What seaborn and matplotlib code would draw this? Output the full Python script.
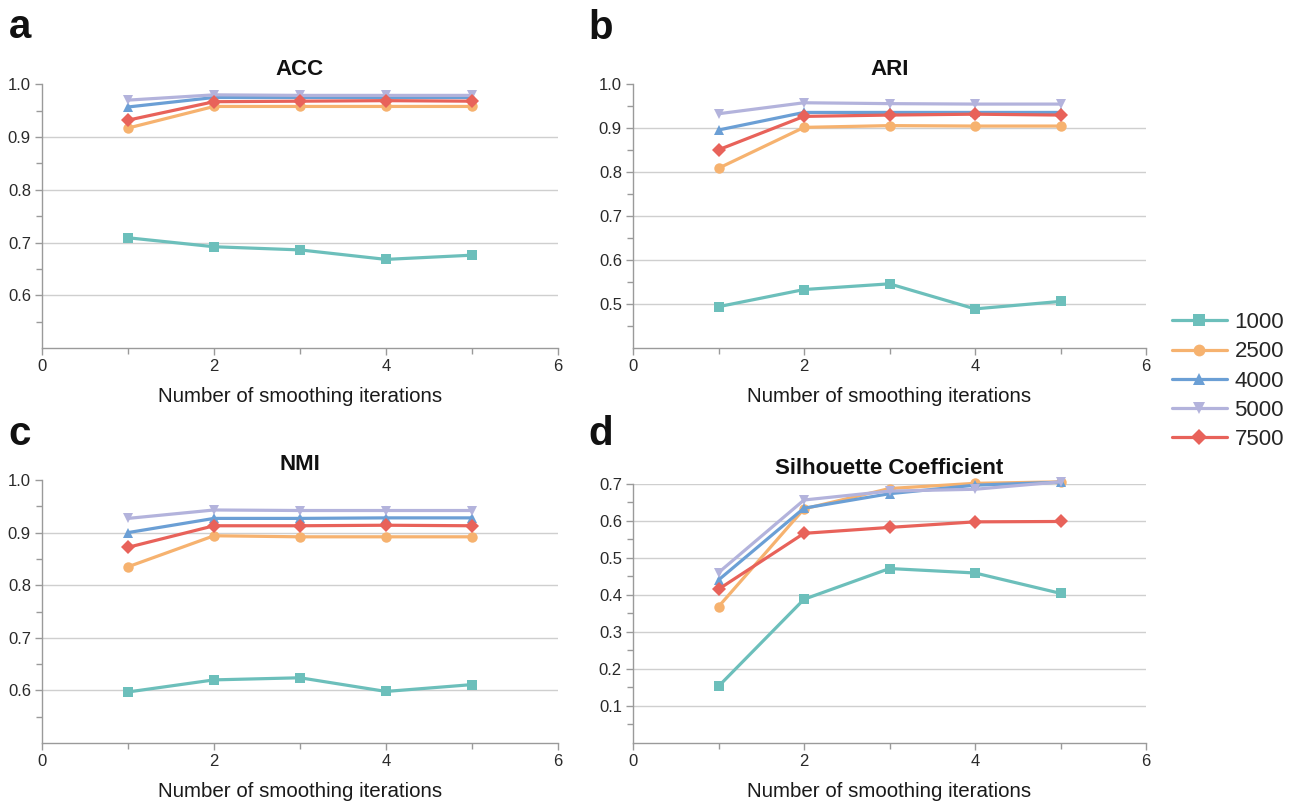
import numpy as np
import pandas as pd
import matplotlib
matplotlib.use("Agg")
import matplotlib.pyplot as plt
import seaborn as sns

iterations = [1, 2, 3, 4, 5]
sizes = ["1000", "2500", "4000", "5000", "7500"]

acc = {
    "1000": [0.709, 0.692, 0.686, 0.668, 0.676],
    "2500": [0.917, 0.958, 0.958, 0.958, 0.958],
    "4000": [0.957, 0.975, 0.975, 0.975, 0.975],
    "5000": [0.970, 0.980, 0.979, 0.979, 0.979],
    "7500": [0.932, 0.967, 0.968, 0.969, 0.968],
}
ari = {
    "1000": [0.494, 0.533, 0.546, 0.489, 0.506],
    "2500": [0.809, 0.902, 0.906, 0.905, 0.905],
    "4000": [0.896, 0.936, 0.936, 0.936, 0.936],
    "5000": [0.933, 0.958, 0.956, 0.955, 0.955],
    "7500": [0.851, 0.927, 0.930, 0.932, 0.930],
}
nmi = {
    "1000": [0.597, 0.620, 0.624, 0.598, 0.611],
    "2500": [0.835, 0.894, 0.892, 0.892, 0.892],
    "4000": [0.900, 0.927, 0.927, 0.928, 0.928],
    "5000": [0.927, 0.943, 0.942, 0.942, 0.942],
    "7500": [0.872, 0.913, 0.913, 0.914, 0.913],
}
sil = {
    "1000": [0.153, 0.388, 0.471, 0.459, 0.404],
    "2500": [0.368, 0.632, 0.687, 0.701, 0.705],
    "4000": [0.440, 0.634, 0.673, 0.696, 0.704],
    "5000": [0.460, 0.656, 0.680, 0.685, 0.705],
    "7500": [0.415, 0.566, 0.582, 0.597, 0.598],
}

titles = ["ACC", "ARI", "NMI", "Silhouette Coefficient"]
letters = ["a", "b", "c", "d"]
xlabel = "Number of smoothing iterations"

colors = ["#6cbfbb", "#f6b26f", "#6b9fd5", "#b3b3dc", "#e8625a"]
marker_list = ["s", "o", "^", "v", "D"]

sns.set_theme(style="white")
plt.rcParams["font.family"] = ["Liberation Sans", "DejaVu Sans"]

fig = plt.figure(figsize=(12.93, 8.07), dpi=100)

W, H = 1293, 807
def frac(l, r, t, b):
    return [l / W, 1 - b / H, (r - l) / W, (b - t) / H]

rects = [frac(42, 558, 84.3, 348), frac(633, 1146, 84.3, 348),
         frac(42, 558, 480, 743), frac(633, 1146, 483.7, 743)]
ylims = [(0.5, 1.0), (0.4, 1.0), (0.5, 1.0), (0.0, 0.7)]
yticks = [np.arange(0.6, 1.01, 0.1), np.arange(0.5, 1.01, 0.1),
          np.arange(0.6, 1.01, 0.1), np.arange(0.1, 0.71, 0.1)]
letter_pos = [(9, 38), (588, 39), (8, 445), (588, 445)]
datasets = [acc, ari, nmi, sil]

palette = dict(zip(sizes, colors))
markers = dict(zip(sizes, marker_list))

for i, d in enumerate(datasets):
    ax = fig.add_axes(rects[i])
    df = pd.DataFrame([
        {"iter": it, "value": v, "size": s}
        for s in sizes for it, v in zip(iterations, d[s])
    ])
    sns.lineplot(data=df, x="iter", y="value", hue="size", style="size",
                 hue_order=sizes, style_order=sizes, palette=palette,
                 markers=markers, dashes=False, linewidth=2.3,
                 markersize=7.5, markeredgewidth=0, ax=ax, legend=(i == 1))
    for ln in ax.lines:
        ln.set_markeredgecolor(ln.get_color())
        ln.set_clip_on(False)
    ax.set_xlim(0, 6)
    ax.set_ylim(*ylims[i])
    ax.set_xticks([0, 2, 4, 6])
    ax.set_xticks([1, 3, 5], minor=True)
    yt = np.round(yticks[i], 2)
    ax.set_yticks(yt)
    ax.set_yticklabels([f"{v:.1f}" for v in yt])
    minor = np.round(np.arange(ylims[i][0] + 0.05, ylims[i][1], 0.1), 3)
    ax.set_yticks(minor, minor=True)
    ax.grid(axis="y", which="major", color="#cfcfcf", linewidth=1.0)
    if i != 3:
        ax.get_ygridlines()[-1].set_visible(False)
    for sp in ["top", "right"]:
        ax.spines[sp].set_visible(False)
    for sp in ["left", "bottom"]:
        ax.spines[sp].set_color("#9a9a9a")
        ax.spines[sp].set_linewidth(1.0)
    ax.tick_params(axis="both", which="major", direction="out", length=5,
                   width=1, color="#9a9a9a", labelsize=12, labelcolor="#2a2a2a",
                   left=True, bottom=True, pad=3)
    ax.tick_params(axis="both", which="minor", direction="out", length=4,
                   width=1, color="#9a9a9a", left=True, bottom=True)
    ax.set_xlabel(xlabel, fontsize=14.8, color="#1a1a1a", labelpad=9)
    ax.set_ylabel("")
    ax.set_title(titles[i], fontsize=16, fontweight="bold", pad=7, color="#111111")
    ax.set_axisbelow(True)
    fig.text(letter_pos[i][0] / W, 1 - letter_pos[i][1] / H, letters[i],
             fontsize=29, fontweight="bold", color="#111111")
    if i == 1:
        handles, labels = ax.get_legend_handles_labels()
        ax.get_legend().remove()
        for h in handles:
            h.set_markeredgecolor(h.get_color())
            h.set_markersize(8.5)
        fig.legend(handles, labels, loc="center left",
                   bbox_to_anchor=(1170 / W, 1 - 381 / H), frameon=False,
                   fontsize=16, handlelength=2.45, labelspacing=0.37,
                   handletextpad=0.35, borderpad=0.1, borderaxespad=0)

fig.savefig("out.png", dpi=100)
